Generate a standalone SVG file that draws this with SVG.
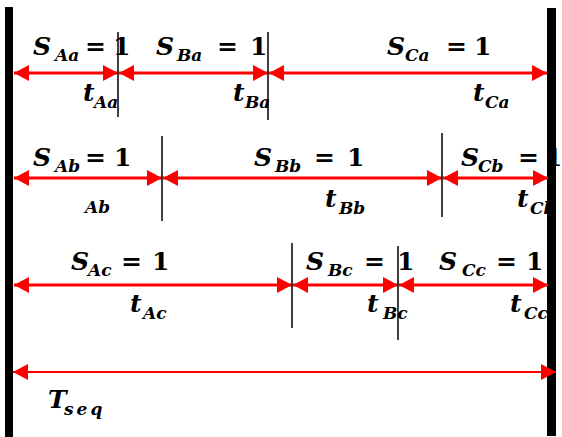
<svg xmlns="http://www.w3.org/2000/svg" width="562" height="437" viewBox="0 0 562 437">
<defs>
<style>
.m{font-family:"DejaVu Serif","Liberation Serif",serif;font-weight:bold;font-style:italic;font-size:25px;fill:#000}
.s{font-size:17px}
.u{font-style:normal}
.arr{stroke:#ff0000;stroke-width:3;fill:none;marker-start:url(#ah);marker-end:url(#ah)}
.thin{stroke:#ff0000;stroke-width:2;fill:none;marker-start:url(#ah);marker-end:url(#ah)}
.div{stroke:#000;stroke-width:1.5}
.bar{fill:#000}
</style>
<marker id="ah" markerUnits="userSpaceOnUse" markerWidth="15" markerHeight="16" refX="15" refY="8" orient="auto-start-reverse">
<path d="M0,0 L15,8 L0,16 z" fill="#ff0000"/>
</marker>
</defs>
<rect id="left-bar" class="bar" x="5" y="7" width="8" height="430"/>
<rect id="right-bar" class="bar" x="547" y="8" width="9" height="428"/>
<g id="connectors">
<line class="arr" x1="14" y1="73" x2="118" y2="73"/>
<line class="arr" x1="119" y1="73" x2="268" y2="73"/>
<line class="arr" x1="269" y1="73" x2="547" y2="73"/>
<line class="arr" x1="14" y1="178" x2="162" y2="178"/>
<line class="arr" x1="163" y1="178" x2="442" y2="178"/>
<line class="arr" x1="443" y1="178" x2="548" y2="178"/>
<line class="arr" x1="14" y1="285" x2="292" y2="285"/>
<line class="arr" x1="293" y1="285" x2="398" y2="285"/>
<line class="arr" x1="399" y1="285" x2="548" y2="285"/>
<line class="thin" x1="13" y1="372" x2="556" y2="372"/>
<line class="div" x1="118" y1="32" x2="118" y2="117"/>
<line class="div" x1="268" y1="32" x2="268" y2="120"/>
<line class="div" x1="162" y1="136" x2="162" y2="221"/>
<line class="div" x1="442" y1="133" x2="442" y2="217"/>
<line class="div" x1="292" y1="243" x2="292" y2="328"/>
<line class="div" x1="398" y1="246" x2="398" y2="340"/>
</g>
<g id="row-a">
<text class="m" y="55"><tspan x="33">S</tspan><tspan class="s" x="55" y="61">Aa</tspan><tspan class="u" x="85" y="55">=</tspan><tspan class="u" x="113" y="55">1</tspan></text>
<text class="m" y="55"><tspan x="156">S</tspan><tspan class="s" x="177" y="61">Ba</tspan><tspan class="u" x="217" y="55">=</tspan><tspan class="u" x="250" y="55">1</tspan></text>
<text class="m" y="55"><tspan x="387">S</tspan><tspan class="s" x="405" y="61">Ca</tspan><tspan class="u" x="446" y="55">=</tspan><tspan class="u" x="474" y="55">1</tspan></text>
<text class="m" y="101"><tspan x="83">t</tspan><tspan class="s" x="94" y="108">Aa</tspan></text>
<text class="m" y="101"><tspan x="233">t</tspan><tspan class="s" x="245" y="108">Ba</tspan></text>
<text class="m" y="101"><tspan x="473">t</tspan><tspan class="s" x="485" y="108">Ca</tspan></text>
</g>
<g id="row-b">
<text class="m" y="166"><tspan x="33">S</tspan><tspan class="s" x="55" y="172">Ab</tspan><tspan class="u" x="85" y="166">=</tspan><tspan class="u" x="114" y="166">1</tspan></text>
<text class="m s" x="85" y="213">Ab</text>
<text class="m" y="166"><tspan x="254">S</tspan><tspan class="s" x="275" y="172">Bb</tspan><tspan class="u" x="314" y="166">=</tspan><tspan class="u" x="347" y="166">1</tspan></text>
<text class="m" y="207"><tspan x="325">t</tspan><tspan class="s" x="339" y="214">Bb</tspan></text>
<text class="m" y="166"><tspan x="461">S</tspan><tspan class="s" x="478" y="172">Cb</tspan><tspan class="u" x="518" y="166">=</tspan><tspan class="u" x="545" y="166">1</tspan></text>
<text class="m" y="207"><tspan x="517">t</tspan><tspan class="s" x="530" y="214">Cb</tspan></text>
</g>
<g id="row-c">
<text class="m" y="270"><tspan x="71">S</tspan><tspan class="s" x="88" y="276">Ac</tspan><tspan class="u" x="121" y="270">=</tspan><tspan class="u" x="152" y="270">1</tspan></text>
<text class="m" y="312"><tspan x="130">t</tspan><tspan class="s" x="143" y="319">Ac</tspan></text>
<text class="m" y="270"><tspan x="306">S</tspan><tspan class="s" x="328" y="276">Bc</tspan><tspan class="u" x="364" y="270">=</tspan><tspan class="u" x="397" y="270">1</tspan></text>
<text class="m" y="312"><tspan x="367">t</tspan><tspan class="s" x="383" y="319">Bc</tspan></text>
<text class="m" y="270"><tspan x="439">S</tspan><tspan class="s" x="462" y="276">Cc</tspan><tspan class="u" x="496" y="270">=</tspan><tspan class="u" x="526" y="270">1</tspan></text>
<text class="m" y="312"><tspan x="510">t</tspan><tspan class="s" x="524" y="319">Cc</tspan></text>
</g>
<g id="row-seq">
<text class="m" y="408"><tspan x="48">T</tspan><tspan class="s" x="64" y="415" letter-spacing="3">seq</tspan></text>
</g>
</svg>
